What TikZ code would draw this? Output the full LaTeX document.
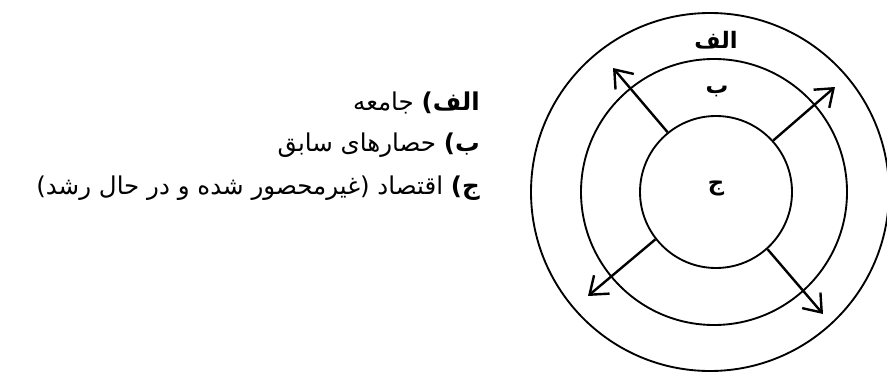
\documentclass[tikz,border=0pt]{standalone}
\usepackage{fontspec}
\newfontfamily\arabicfont[Script=Arabic]{DejaVu Sans}
\TeXXeTstate=1
\usetikzlibrary{arrows.meta,positioning}

\begin{document}
\begin{tikzpicture}[x=0.75pt, y=-0.75pt,
        ring/.style={circle, draw=black, line width=1.4pt, inner sep=0pt},
        ringtext/.style={font=\arabicfont\bfseries\fontsize{17}{19}\selectfont, inner sep=0pt},
        legend/.style={anchor=east, font=\arabicfont\fontsize{18.4}{21}\selectfont, inner sep=0pt},
        spread/.style={-{Straight Barb[length=12pt,width=18pt]}, line width=1.8pt}
    ]
    \clip (0,0) rectangle (887,374);

    % Rings
    \node[ring, minimum size=268.5pt] (outer) at (710,192) {};
    \node[ring, minimum size=199.5pt] (middle) at (714,192) {};
    \node[ring, minimum size=114pt] (inner) at (716,192) {};

    % Ring names
    \node[ringtext] (alef) at (716,40) {\beginR الف\endR};
    \node[ringtext] (be) at (717,91) {\beginR ب\endR};
    \node[ringtext] (jim) at (716,188) {\beginR ج\endR};

    % Outward arrows
    \coordinate (nw) at (613,68);
    \coordinate (ne) at (835,87);
    \coordinate (sw) at (588,296);
    \coordinate (se) at (823,314);
    \draw[spread] (inner.129) -- (nw);
    \draw[spread] (inner.42) -- (ne);
    \draw[spread] (inner.218) -- (sw);
    \draw[spread] (inner.312) -- (se);

    % Legend
    \node[legend] (itema) at (480,103) {\beginR\textbf{الف)} جامعه\endR};
    \node[legend] (itemb) at (480,145) {\beginR\textbf{ب)} حصارهای سابق\endR};
    \node[legend] (itemc) at (480,188) {\beginR\textbf{ج)} اقتصاد (غیرمحصور شده و در حال رشد)\endR};
\end{tikzpicture}
\end{document}
